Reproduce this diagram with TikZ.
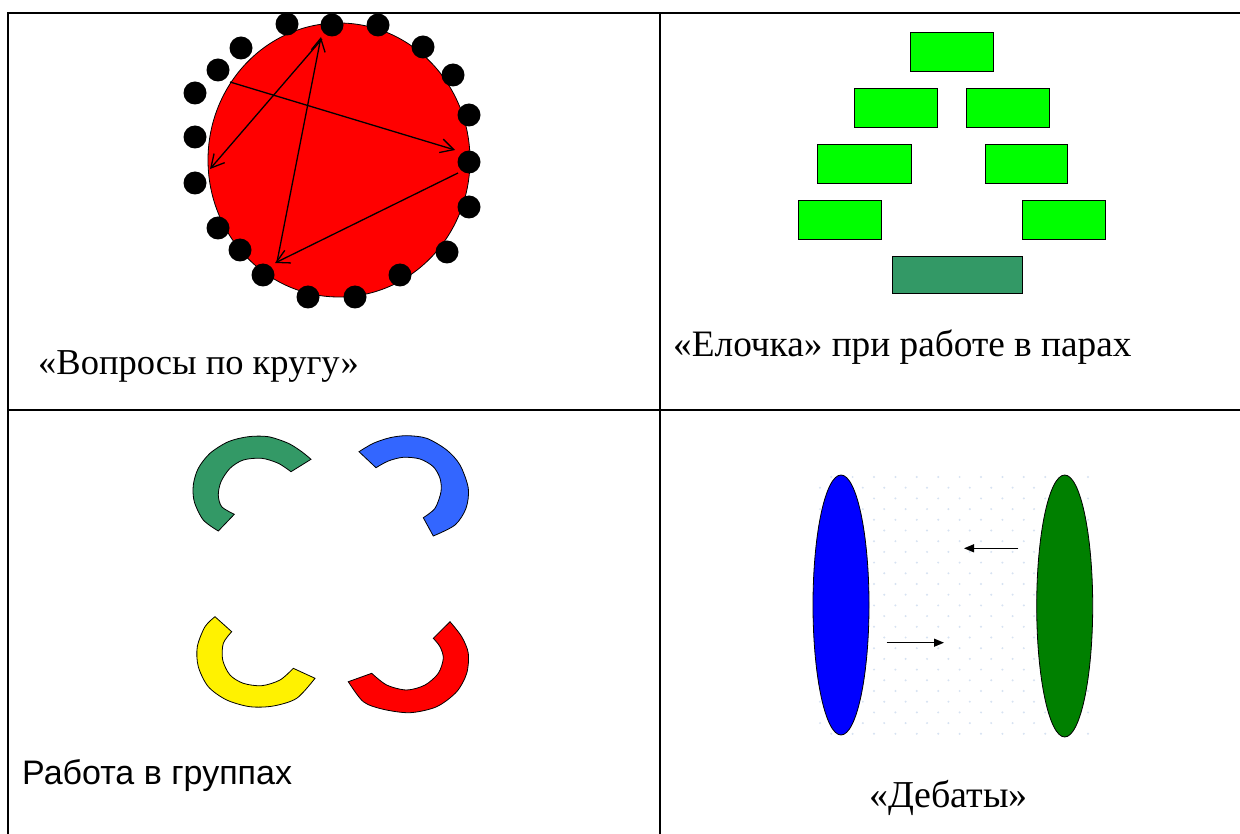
\documentclass[tikz,border=0pt]{standalone}
\usepackage{fontspec}
\setmainfont{Liberation Serif}
\newfontfamily\sansf{Liberation Sans}
\usetikzlibrary{arrows.meta}
\definecolor{seagreen}{HTML}{339966}
\definecolor{brightgreen}{HTML}{00FF00}
\definecolor{ringblue}{HTML}{3366FF}
\definecolor{dotc}{HTML}{D6E2F2}
\definecolor{debgreen}{HTML}{008000}
\begin{document}
\begin{tikzpicture}[x=1pt,y=-1pt,
  gridline/.style={line width=2pt,black},
  desk/.style={draw=black,line width=1pt,fill=brightgreen,minimum width=83pt,minimum height=39pt,inner sep=0pt,outer sep=0pt,anchor=north west},
  pupil/.style={fill=black},
  pass/.style={line width=1.3pt,-{Straight Barb[length=13pt,width=14pt,line width=1.3pt]}},
  ring/.style={draw=black,line width=0.8pt},
  push/.style={line width=1.2pt,-{Triangle[length=10pt,width=8pt]}},
  label/.style={anchor=base west,inner sep=0pt,font=\fontsize{36}{40}\selectfont}
]
\useasboundingbox (0,0) rectangle (1240,834);
\fill[white] (0,0) rectangle (1240,834);
% table grid
\draw[gridline] (1240,13) -- (8,13) -- (8,834);
\draw[gridline] (660,13) -- (660,834);
\draw[gridline] (8,410) -- (1240,410);

% ---- cell 1: questions in a circle
\fill[red,draw=black,line width=0.8pt] (339,160) ellipse [x radius=131, y radius=137];
\foreach \px/\py in {287/24,332/25,378/25,423/47,453/75,469/115,469/162,469/207,447/252,400/275,355/297,308/297,263/275,240/250,218/228,195/183,195/137,195/93,218/70,241/48}
  \fill[pupil] (\px,\py) circle (11.5);
\coordinate (qa) at (230,82);
\coordinate (qb) at (455,150);
\coordinate (qc) at (458,173);
\coordinate (qd) at (275,263);
\coordinate (qe) at (277,262);
\coordinate (qf) at (321,37);
\coordinate (qg) at (322,39);
\coordinate (qh) at (210,169);
\draw[pass] (qa) -- (qb);
\draw[pass] (qc) -- (qd);
\draw[pass] (qe) -- (qf);
\draw[pass] (qg) -- (qh);
\node[label,font=\fontsize{36.5}{40}\selectfont] (t1) at (38,374) {«Вопросы по кругу»};

% ---- cell 2: fir tree
\node[desk] (d1) at (910,33) {};
\node[desk] (d2) at (854,89) {};
\node[desk] (d3) at (966,89) {};
\node[desk,minimum width=94pt] (d4) at (817,145) {};
\node[desk,minimum width=82pt] (d5) at (985,145) {};
\node[desk] (d6) at (798,201) {};
\node[desk] (d7) at (1022,201) {};
\node[desk,fill=seagreen,minimum width=130pt,minimum height=37pt] (d8) at (892,257) {};
\node[label,font=\fontsize{37.3}{40}\selectfont] (t2) at (673,356) {«Елочка» при работе в парах};

% ---- cell 3: group work
\draw[ring,fill=seagreen] plot[smooth] coordinates {(218.3,531) (203.3,520) (194.3,501.7) (193.3,485) (198.3,468.3) (210,453.3) (228.3,441.7) (248.3,436.7) (268.3,436.7) (288.3,443.3) (301.7,451.7) (311,459.3)}
  -- plot[smooth] coordinates {(291,471.7) (278.3,463.3) (261.7,458.3) (243.3,460) (230,468.3) (221,481.7) (218.3,495) (221.7,506.7) (234.3,514.3)} -- cycle;
\draw[ring,fill=ringblue] plot[smooth] coordinates {(359,451.7) (373.3,443.3) (390,437.7) (406.7,435.7) (426.7,438.3) (446.7,450) (460,465) (468.3,488.3) (466,508.3) (455,525) (433.3,536)}
  -- plot[smooth] coordinates {(423.3,517.7) (435,508.3) (441,491.7) (440,478.3) (433.3,466.7) (420,459) (403.3,457.3) (388.3,461) (376,467.7)} -- cycle;
\draw[ring,fill=yellow] plot[smooth] coordinates {(215,616.7) (205,626.7) (197.3,646.7) (198.3,666.7) (208.3,686.7) (226.7,700) (250,706.7) (273.3,706) (296.7,698.3) (315,678.3)}
  -- plot[smooth] coordinates {(293.3,668.3) (280,680) (261.7,685.7) (243.3,683.3) (230,675) (222.7,660) (223.3,643.3) (231.7,631.7)} -- cycle;
\draw[ring,fill=red] plot[smooth] coordinates {(450,621.7) (461.7,636.7) (468.3,653.3) (466.7,673.3) (456.7,691.7) (436.7,706.7) (410,712.7) (383.3,709.3) (363.3,701.7) (348.3,681.7)}
  -- plot[smooth] coordinates {(371.7,673.3) (386.7,685) (406.7,690) (425,685) (438.3,673.3) (443.3,658.3) (440,646.7) (433.3,638.3)} -- cycle;
\node[label,font=\sansf\fontsize{34}{40}\selectfont] (t3) at (22,784) {Работа в группах};

% ---- cell 4: debates
\foreach \k in {0,...,24}
  \foreach \m in {0,...,12}
    \fill[dotc] ({831.2-11.2*mod(\k,2)+21.4*\m},{477+10.7*\k}) circle (1.1);
\fill[blue,draw=black,line width=0.8pt] (841,605) ellipse [x radius=28, y radius=130];
\fill[debgreen,draw=black,line width=0.8pt] (1064.7,606) ellipse [x radius=28, y radius=131];
\coordinate (ra) at (886.7,642.7);
\coordinate (rb) at (944,642.7);
\coordinate (la) at (1018.3,548.3);
\coordinate (lb) at (964,548.3);
\draw[push] (ra) -- (rb);
\draw[push] (la) -- (lb);
\node[label,font=\fontsize{38}{40}\selectfont] (t4) at (869,807) {«Дебаты»};
\end{tikzpicture}
\end{document}
